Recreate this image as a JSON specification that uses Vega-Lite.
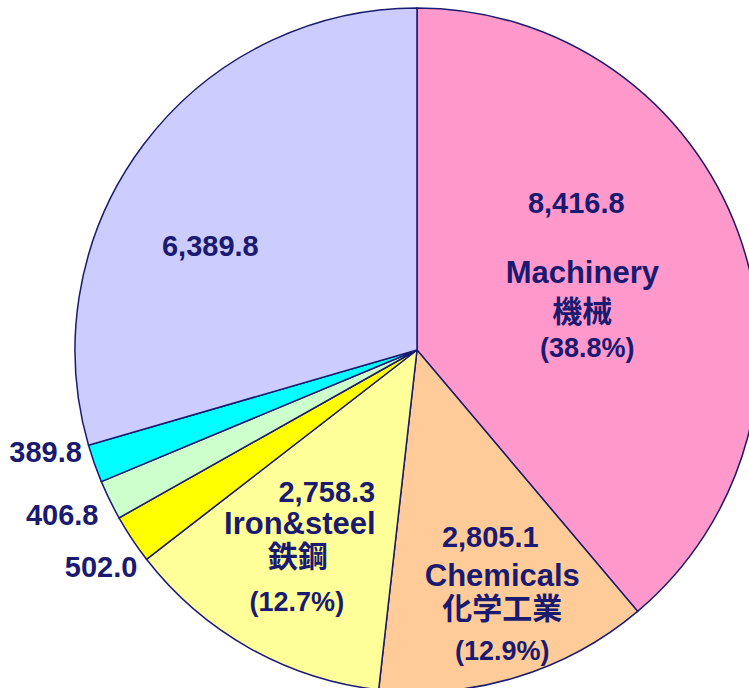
{
  "$schema": "https://vega.github.io/schema/vega-lite/v6.json",
  "width": 834,
  "height": 700,
  "autosize": "none",
  "padding": 0,
  "background": "white",
  "config": {"view": {"stroke": null}},
  "data": {"values": [
    {"order": 1, "cat": "Machinery", "value": 8416.8, "vlabel": "8,416.8", "en": "Machinery", "jp": "機械", "pct": "(38.8%)"},
    {"order": 2, "cat": "Chemicals", "value": 2805.1, "vlabel": "2,805.1", "en": "Chemicals", "jp": "化学工業", "pct": "(12.9%)"},
    {"order": 3, "cat": "Iron&steel", "value": 2758.3, "vlabel": "2,758.3", "en": "Iron&steel", "jp": "鉄鋼", "pct": "(12.7%)"},
    {"order": 4, "cat": "s4", "value": 502.0, "vlabel": "502.0", "en": "", "jp": "", "pct": ""},
    {"order": 5, "cat": "s5", "value": 406.8, "vlabel": "406.8", "en": "", "jp": "", "pct": ""},
    {"order": 6, "cat": "s6", "value": 389.8, "vlabel": "389.8", "en": "", "jp": "", "pct": ""},
    {"order": 7, "cat": "s7", "value": 6389.8, "vlabel": "6,389.8", "en": "", "jp": "", "pct": ""}
  ]},
  "transform": [
    {"window": [{"op": "sum", "field": "value", "as": "cum"}], "sort": [{"field": "order"}], "frame": [null, 0]},
    {"joinaggregate": [{"op": "sum", "field": "value", "as": "total"}]},
    {"calculate": "(datum.cum - datum.value) / datum.total", "as": "start"},
    {"calculate": "datum.cum / datum.total", "as": "end"},
    {"calculate": "(datum.cum - datum.value / 2) / datum.total", "as": "mid"}
  ],
  "layer": [
    {
      "mark": {"type": "arc", "outerRadius": 342, "stroke": "#1a1a70", "strokeWidth": 1.5},
      "encoding": {
        "theta": {"field": "start", "type": "quantitative", "scale": {"domain": [0, 1], "range": [0, 6.283185307179586]}},
        "theta2": {"field": "end"},
        "color": {"field": "cat", "type": "nominal", "legend": null,
          "scale": {"domain": ["Machinery", "Chemicals", "Iron&steel", "s4", "s5", "s6", "s7"],
                    "range": ["#FF99CC", "#FFCC99", "#FFFF99", "#FFFF00", "#CCFFCC", "#00FFFF", "#CCCCFF"]}}
      }
    },
    {"transform": [{"filter": "datum.cat == 'Machinery'"}],
     "mark": {"type": "text", "radius": 176, "dx": -6, "dy": -86, "fontSize": 29, "fontWeight": "bold", "font": "Liberation Sans, Noto Sans CJK JP, sans-serif", "color": "#1a1a70", "baseline": "middle", "align": "center"},
     "encoding": {"theta": {"field": "mid", "type": "quantitative", "scale": {"domain": [0, 1], "range": [0, 6.283185307179586]}}, "text": {"field": "vlabel"}}},
    {"transform": [{"filter": "datum.cat == 'Machinery'"}],
     "mark": {"type": "text", "radius": 176, "dx": 0, "dy": -16, "fontSize": 31, "fontWeight": "bold", "font": "Liberation Sans, Noto Sans CJK JP, sans-serif", "color": "#1a1a70", "baseline": "middle", "align": "center"},
     "encoding": {"theta": {"field": "mid", "type": "quantitative", "scale": {"domain": [0, 1], "range": [0, 6.283185307179586]}}, "text": {"field": "en"}}},
    {"transform": [{"filter": "datum.cat == 'Machinery'"}],
     "mark": {"type": "text", "radius": 176, "dx": 0, "dy": 23, "fontSize": 30, "fontWeight": "bold", "font": "Noto Sans CJK JP, sans-serif", "color": "#1a1a70", "baseline": "middle", "align": "center"},
     "encoding": {"theta": {"field": "mid", "type": "quantitative", "scale": {"domain": [0, 1], "range": [0, 6.283185307179586]}}, "text": {"field": "jp"}}},
    {"transform": [{"filter": "datum.cat == 'Machinery'"}],
     "mark": {"type": "text", "radius": 176, "dx": 5, "dy": 59, "fontSize": 27, "fontWeight": "bold", "font": "Liberation Sans, sans-serif", "color": "#1a1a70", "baseline": "middle", "align": "center"},
     "encoding": {"theta": {"field": "mid", "type": "quantitative", "scale": {"domain": [0, 1], "range": [0, 6.283185307179586]}}, "text": {"field": "pct"}}},

    {"transform": [{"filter": "datum.cat == 'Chemicals'"}],
     "mark": {"type": "text", "radius": 294, "dx": -12, "dy": -93, "fontSize": 29, "fontWeight": "bold", "font": "Liberation Sans, sans-serif", "color": "#1a1a70", "baseline": "middle", "align": "center"},
     "encoding": {"theta": {"field": "mid", "type": "quantitative", "scale": {"domain": [0, 1], "range": [0, 6.283185307179586]}}, "text": {"field": "vlabel"}}},
    {"transform": [{"filter": "datum.cat == 'Chemicals'"}],
     "mark": {"type": "text", "radius": 294, "dx": 0, "dy": -54, "fontSize": 31, "fontWeight": "bold", "font": "Liberation Sans, sans-serif", "color": "#1a1a70", "baseline": "middle", "align": "center"},
     "encoding": {"theta": {"field": "mid", "type": "quantitative", "scale": {"domain": [0, 1], "range": [0, 6.283185307179586]}}, "text": {"field": "en"}}},
    {"transform": [{"filter": "datum.cat == 'Chemicals'"}],
     "mark": {"type": "text", "radius": 294, "dx": 0, "dy": -21, "fontSize": 30, "fontWeight": "bold", "font": "Noto Sans CJK JP, sans-serif", "color": "#1a1a70", "baseline": "middle", "align": "center"},
     "encoding": {"theta": {"field": "mid", "type": "quantitative", "scale": {"domain": [0, 1], "range": [0, 6.283185307179586]}}, "text": {"field": "jp"}}},
    {"transform": [{"filter": "datum.cat == 'Chemicals'"}],
     "mark": {"type": "text", "radius": 294, "dx": 0, "dy": 21, "fontSize": 27, "fontWeight": "bold", "font": "Liberation Sans, sans-serif", "color": "#1a1a70", "baseline": "middle", "align": "center"},
     "encoding": {"theta": {"field": "mid", "type": "quantitative", "scale": {"domain": [0, 1], "range": [0, 6.283185307179586]}}, "text": {"field": "pct"}}},

    {"transform": [{"filter": "datum.cat == 'Iron&steel'"}],
     "mark": {"type": "text", "radius": 239, "dx": 27, "dy": -65, "fontSize": 29, "fontWeight": "bold", "font": "Liberation Sans, sans-serif", "color": "#1a1a70", "baseline": "middle", "align": "center"},
     "encoding": {"theta": {"field": "mid", "type": "quantitative", "scale": {"domain": [0, 1], "range": [0, 6.283185307179586]}}, "text": {"field": "vlabel"}}},
    {"transform": [{"filter": "datum.cat == 'Iron&steel'"}],
     "mark": {"type": "text", "radius": 239, "dx": 0, "dy": -33, "fontSize": 31, "fontWeight": "bold", "font": "Liberation Sans, sans-serif", "color": "#1a1a70", "baseline": "middle", "align": "center"},
     "encoding": {"theta": {"field": "mid", "type": "quantitative", "scale": {"domain": [0, 1], "range": [0, 6.283185307179586]}}, "text": {"field": "en"}}},
    {"transform": [{"filter": "datum.cat == 'Iron&steel'"}],
     "mark": {"type": "text", "radius": 239, "dx": -2, "dy": 0, "fontSize": 30, "fontWeight": "bold", "font": "Noto Sans CJK JP, sans-serif", "color": "#1a1a70", "baseline": "middle", "align": "center"},
     "encoding": {"theta": {"field": "mid", "type": "quantitative", "scale": {"domain": [0, 1], "range": [0, 6.283185307179586]}}, "text": {"field": "jp"}}},
    {"transform": [{"filter": "datum.cat == 'Iron&steel'"}],
     "mark": {"type": "text", "radius": 239, "dx": -3, "dy": 45, "fontSize": 27, "fontWeight": "bold", "font": "Liberation Sans, sans-serif", "color": "#1a1a70", "baseline": "middle", "align": "center"},
     "encoding": {"theta": {"field": "mid", "type": "quantitative", "scale": {"domain": [0, 1], "range": [0, 6.283185307179586]}}, "text": {"field": "pct"}}},

    {"transform": [{"filter": "datum.cat == 's7'"}],
     "mark": {"type": "text", "radius": 231, "dx": -22, "dy": 36, "fontSize": 29, "fontWeight": "bold", "font": "Liberation Sans, sans-serif", "color": "#1a1a70", "baseline": "middle", "align": "center"},
     "encoding": {"theta": {"field": "mid", "type": "quantitative", "scale": {"domain": [0, 1], "range": [0, 6.283185307179586]}}, "text": {"field": "vlabel"}}},
    {"transform": [{"filter": "datum.cat == 's6'"}],
     "mark": {"type": "text", "radius": 350, "dx": -5, "dy": -13, "fontSize": 29, "fontWeight": "bold", "font": "Liberation Sans, sans-serif", "color": "#1a1a70", "baseline": "middle", "align": "right"},
     "encoding": {"theta": {"field": "mid", "type": "quantitative", "scale": {"domain": [0, 1], "range": [0, 6.283185307179586]}}, "text": {"field": "vlabel"}}},
    {"transform": [{"filter": "datum.cat == 's5'"}],
     "mark": {"type": "text", "radius": 350, "dx": -4, "dy": 12, "fontSize": 29, "fontWeight": "bold", "font": "Liberation Sans, sans-serif", "color": "#1a1a70", "baseline": "middle", "align": "right"},
     "encoding": {"theta": {"field": "mid", "type": "quantitative", "scale": {"domain": [0, 1], "range": [0, 6.283185307179586]}}, "text": {"field": "vlabel"}}},
    {"transform": [{"filter": "datum.cat == 's4'"}],
     "mark": {"type": "text", "radius": 350, "dx": 12, "dy": 24, "fontSize": 29, "fontWeight": "bold", "font": "Liberation Sans, sans-serif", "color": "#1a1a70", "baseline": "middle", "align": "right"},
     "encoding": {"theta": {"field": "mid", "type": "quantitative", "scale": {"domain": [0, 1], "range": [0, 6.283185307179586]}}, "text": {"field": "vlabel"}}}
  ]
}
